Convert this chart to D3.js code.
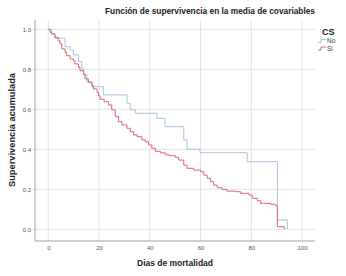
<!DOCTYPE html>
<html lang="es">
<head>
<meta charset="utf-8" />
<title>Función de supervivencia</title>
<style>
  body{margin:0;background:#fff;font-family:"Liberation Sans",Arial,sans-serif}
  .grid line{stroke:#dcdcdc;stroke-width:.8}
  .tick text{fill:#555;font-size:6px}
  .lbl{font-weight:bold;fill:#222}
</style>
<script src="https://cdn.jsdelivr.net/npm/d3@7.9.0/dist/d3.min.js"></script>
</head>
<body>
<div id="chart"></div>
<script>
/* ───── data ───── */
const xTicks = [0,20,40,60,80,100];
const yTicks = [0,0.2,0.4,0.6,0.8,1.0];

// CS = No
const noTime = [0,1.3,2.6,6.6,8.6,9.9,11.9,13.2,13.9,15.2,17.2,21.7,31,32.3,34.3,42.8,46,53.4,54.7,59.8,78.4,90.3,94.2];
const noSurv = [1,0.977,0.955,0.913,0.897,0.872,0.838,0.805,0.772,0.738,0.713,0.672,0.63,0.597,0.58,0.555,0.513,0.447,0.40,0.383,0.338,0.047,0];

// CS = Si
const siTime = [0,0.7,1.3,2.6,3.9,4.6,5.3,6.6,7.2,8.6,9.9,10.5,11.9,12.5,13.9,14.5,15.8,17.2,17.8,19.2,19.8,20.4,22,23.7,25,26.4,27.7,29,31,32.3,33.6,35,36.9,38.2,39.5,40.8,42.2,44.2,46.1,48,50.1,51.4,53.4,54.7,57.3,60,61.3,62.6,63.9,65.2,66.6,68.5,70.5,73.8,75.8,79.1,80.4,82.4,83.7,87.7,89.7,90.3,93];
const siSurv = [1,0.985,0.977,0.96,0.943,0.927,0.902,0.885,0.868,0.852,0.843,0.827,0.81,0.793,0.777,0.752,0.735,0.718,0.702,0.685,0.668,0.65,0.638,0.622,0.597,0.563,0.538,0.522,0.505,0.488,0.472,0.463,0.447,0.438,0.422,0.405,0.39,0.382,0.372,0.368,0.36,0.346,0.321,0.305,0.296,0.288,0.271,0.255,0.238,0.221,0.208,0.2,0.191,0.188,0.18,0.171,0.155,0.143,0.13,0.125,0.117,0.013,0];

const series = [
  {name:'No', color:'#a9c3e0', t:noTime, s:noSurv},
  {name:'Si', color:'#d8647e', t:siTime, s:siSurv}
];

/* ───── layout ───── */
const W = 346, H = 276;
const P = {left:35, right:315, top:20, bottom:241};

const svg = d3.select('#chart').append('svg')
  .attr('width',W).attr('height',H).attr('viewBox',[0,0,W,H]);

const x = d3.scaleLinear([0,100],[48.3,302]);
const y = d3.scaleLinear([0,1],[229.3,29.3]);

/* grid */
const grid = svg.append('g').attr('class','grid');
grid.selectAll('.v').data(xTicks).join('line')
  .attr('x1',d=>x(d)).attr('x2',d=>x(d)).attr('y1',P.top).attr('y2',P.bottom);
grid.selectAll('.h').data(yTicks).join('line')
  .attr('x1',P.left-2).attr('x2',P.right).attr('y1',d=>y(d)).attr('y2',d=>y(d));

/* axes lines */
svg.append('line').attr('x1',P.left).attr('x2',P.left).attr('y1',P.top).attr('y2',P.bottom)
  .attr('stroke','#888').attr('stroke-width',.8);
svg.append('line').attr('x1',P.left).attr('x2',P.right).attr('y1',P.bottom).attr('y2',P.bottom)
  .attr('stroke','#888').attr('stroke-width',.8);

/* tick labels */
const fmt = d3.format('.1f');
svg.append('g').attr('transform',`translate(${P.left},0)`)
  .call(d3.axisLeft(y).tickValues(yTicks).tickSize(0).tickPadding(4).tickFormat(d=>fmt(d).replace('.',',')))
  .call(g=>g.select('.domain').remove());
svg.append('g').attr('transform',`translate(0,${P.bottom})`)
  .call(d3.axisBottom(x).tickValues(xTicks).tickSize(0).tickPadding(5))
  .call(g=>g.select('.domain').remove());

/* curves */
const line = d3.line().x(d=>x(d[0])).y(d=>y(d[1])).curve(d3.curveStepAfter);
series.forEach(sr=>{
  svg.append('path')
    .datum(sr.t.map((t,i)=>[t,sr.s[i]]))
    .attr('fill','none').attr('stroke',sr.color).attr('stroke-width',1)
    .attr('d',line);
});

/* titles */
svg.append('text').attr('class','lbl').attr('x',210).attr('y',14)
  .attr('text-anchor','middle').attr('font-size',8.5)
  .attr('textLength',210).attr('lengthAdjust','spacingAndGlyphs')
  .text('Función de supervivencia en la media de covariables');
svg.append('text').attr('class','lbl').attr('x',175).attr('y',266)
  .attr('text-anchor','middle').attr('font-size',9)
  .attr('textLength',76).attr('lengthAdjust','spacingAndGlyphs')
  .text('Dias de mortalidad');
svg.append('text').attr('class','lbl')
  .attr('transform','translate(15,130) rotate(-90)')
  .attr('text-anchor','middle').attr('font-size',9)
  .attr('textLength',114).attr('lengthAdjust','spacingAndGlyphs')
  .text('Supervivencia acumulada');

/* legend */
const lg = svg.append('g');
lg.append('text').attr('class','lbl').attr('x',322).attr('y',35).attr('font-size',9).text('CS');
series.forEach((sr,i)=>{
  const cy = 41 + i*7.5;
  lg.append('path').attr('fill','none').attr('stroke',sr.color).attr('stroke-width',1)
    .attr('d',`M318,${cy+1.5}h3v-3h5`);
  lg.append('text').attr('x',327).attr('y',cy+2).attr('font-size',6.5).attr('fill','#444').text(sr.name);
});
</script>
</body>
</html>
